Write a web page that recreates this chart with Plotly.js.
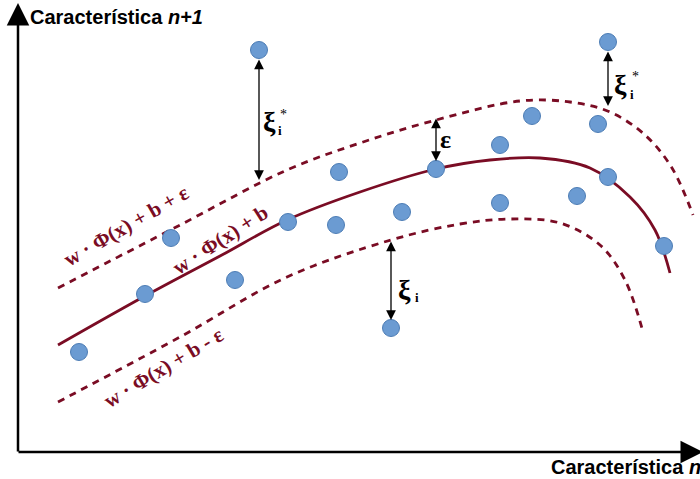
<!DOCTYPE html>
<html><head><meta charset="utf-8">
<script src="https://cdn.plot.ly/plotly-3.0.1.min.js"></script>
<style>html,body{margin:0;padding:0;background:#fff;}</style>
</head><body><div id="chart" style="width:700px;height:479px;"></div>
<script>
// Data points (feature n, feature n+1) in drawing units
const ptX = [79, 145, 171, 235, 259, 288, 336, 339, 391, 402, 436, 500, 500, 532, 577, 598, 608, 608, 664];
const ptY = [352, 294, 238, 280, 50, 222, 225, 172, 328, 212, 169, 203, 145, 116, 196, 124, 42, 177, 246];

// Regression function f(x) = w·Φ(x) + b
const fX = [58, 145, 220, 287, 360, 436, 490, 540, 590, 630, 655, 670];
const fY = [345, 296, 256, 220, 192, 169, 160, 158, 168, 197, 230, 273];
// Upper tube  f(x) + ε
const upX = [58, 180, 287, 360, 436, 520, 570, 610, 645, 672, 693];
const upY = [288, 225, 170, 143, 120, 101, 102, 112, 135, 168, 215];
// Lower tube  f(x) - ε
const loX = [58, 180, 287, 391, 460, 510, 560, 600, 625, 643];
const loY = [402, 337, 277, 240, 224, 219, 223, 245, 280, 332];

// Slack arrows: [x, yTop, yBottom]
const slackArrows = [[259, 58, 180], [391, 240, 320], [436, 117, 161], [608, 50, 106]];

const red = '#7a0c24';
const traces = [
  {x: upX, y: upY, mode: 'lines', line: {color: red, width: 2.8, dash: '7px,6px', shape: 'spline'}, hoverinfo: 'skip'},
  {x: loX, y: loY, mode: 'lines', line: {color: red, width: 2.8, dash: '7px,6px', shape: 'spline'}, hoverinfo: 'skip'},
  {x: fX, y: fY, mode: 'lines', line: {color: red, width: 2.8, shape: 'spline'}, hoverinfo: 'skip'},
  {x: ptX, y: ptY, mode: 'markers', marker: {size: 17, color: '#6b9bd2', line: {color: '#4d7db5', width: 1}}}
];

const ann = [];
// axes arrows
ann.push({x: 18, y: 3, ax: 18, ay: 453, xref: 'x', yref: 'y', axref: 'x', ayref: 'y', text: '', showarrow: true, arrowhead: 2, arrowsize: 1.8, arrowwidth: 2.5, arrowcolor: '#000'});
ann.push({x: 703, y: 452, ax: 17, ay: 452, xref: 'x', yref: 'y', axref: 'x', ayref: 'y', text: '', showarrow: true, arrowhead: 2, arrowsize: 1.8, arrowwidth: 2.5, arrowcolor: '#000'});
slackArrows.forEach(a => {
  ann.push({x: a[0], y: a[2], ax: a[0], ay: a[1], xref: 'x', yref: 'y', axref: 'x', ayref: 'y', text: '', showarrow: true,
    arrowhead: 2, startarrowhead: 2, arrowside: 'end+start', arrowsize: 1.5, startarrowsize: 1.5, arrowwidth: 1.3, arrowcolor: '#000'});
});
const sym = (t, x, y, s, w) => ann.push({x: x, y: y, xref: 'x', yref: 'y', text: t, showarrow: false,
  font: {family: 'Liberation Serif, serif', size: s, color: '#000', weight: w || 'normal'}});
sym('ξ', 269, 121, 28, 'bold'); sym('i', 280, 130, 13, 'bold'); sym('*', 283, 114, 14);
sym('ξ', 404, 289, 28, 'bold'); sym('i', 417, 297, 13, 'bold');
sym('ξ', 620, 84, 28, 'bold'); sym('i', 632, 94, 13, 'bold'); sym('*', 635, 76, 14);
sym('ε', 445, 139, 26, 'bold');
// function labels
const lab = (t, x, y, ang) => ann.push({x: x, y: y, xref: 'x', yref: 'y', text: t, showarrow: false, textangle: ang,
  font: {family: 'Liberation Serif, serif', size: 21, color: red, weight: 'bold'}});
lab('w · Φ(x) + b + ε', 126, 226, -30);
lab('w · Φ(x) + b', 220, 240, -33);
lab('w · Φ(x) + b - ε', 163, 368, -31);
// axis titles
ann.push({x: 28, y: 17, xref: 'x', yref: 'y', xanchor: 'left', yanchor: 'middle', text: 'Característica <i>n+1</i>', showarrow: false,
  font: {family: 'Liberation Sans, Arial, sans-serif', size: 20, color: '#000', weight: 'bold'}});
ann.push({x: 549, y: 467, xref: 'x', yref: 'y', xanchor: 'left', yanchor: 'middle', text: 'Característica <i>n</i>', showarrow: false,
  font: {family: 'Liberation Sans, Arial, sans-serif', size: 20, color: '#000', weight: 'bold'}});

const layout = {
  width: 700, height: 479, margin: {l: 0, r: 0, t: 0, b: 0},
  paper_bgcolor: '#fff', plot_bgcolor: '#fff', showlegend: false,
  xaxis: {range: [0, 700], visible: false, fixedrange: true},
  yaxis: {range: [479, 0], visible: false, fixedrange: true},
  annotations: ann
};
Plotly.newPlot('chart', traces, layout, {displayModeBar: false, staticPlot: true});
</script></body></html>
